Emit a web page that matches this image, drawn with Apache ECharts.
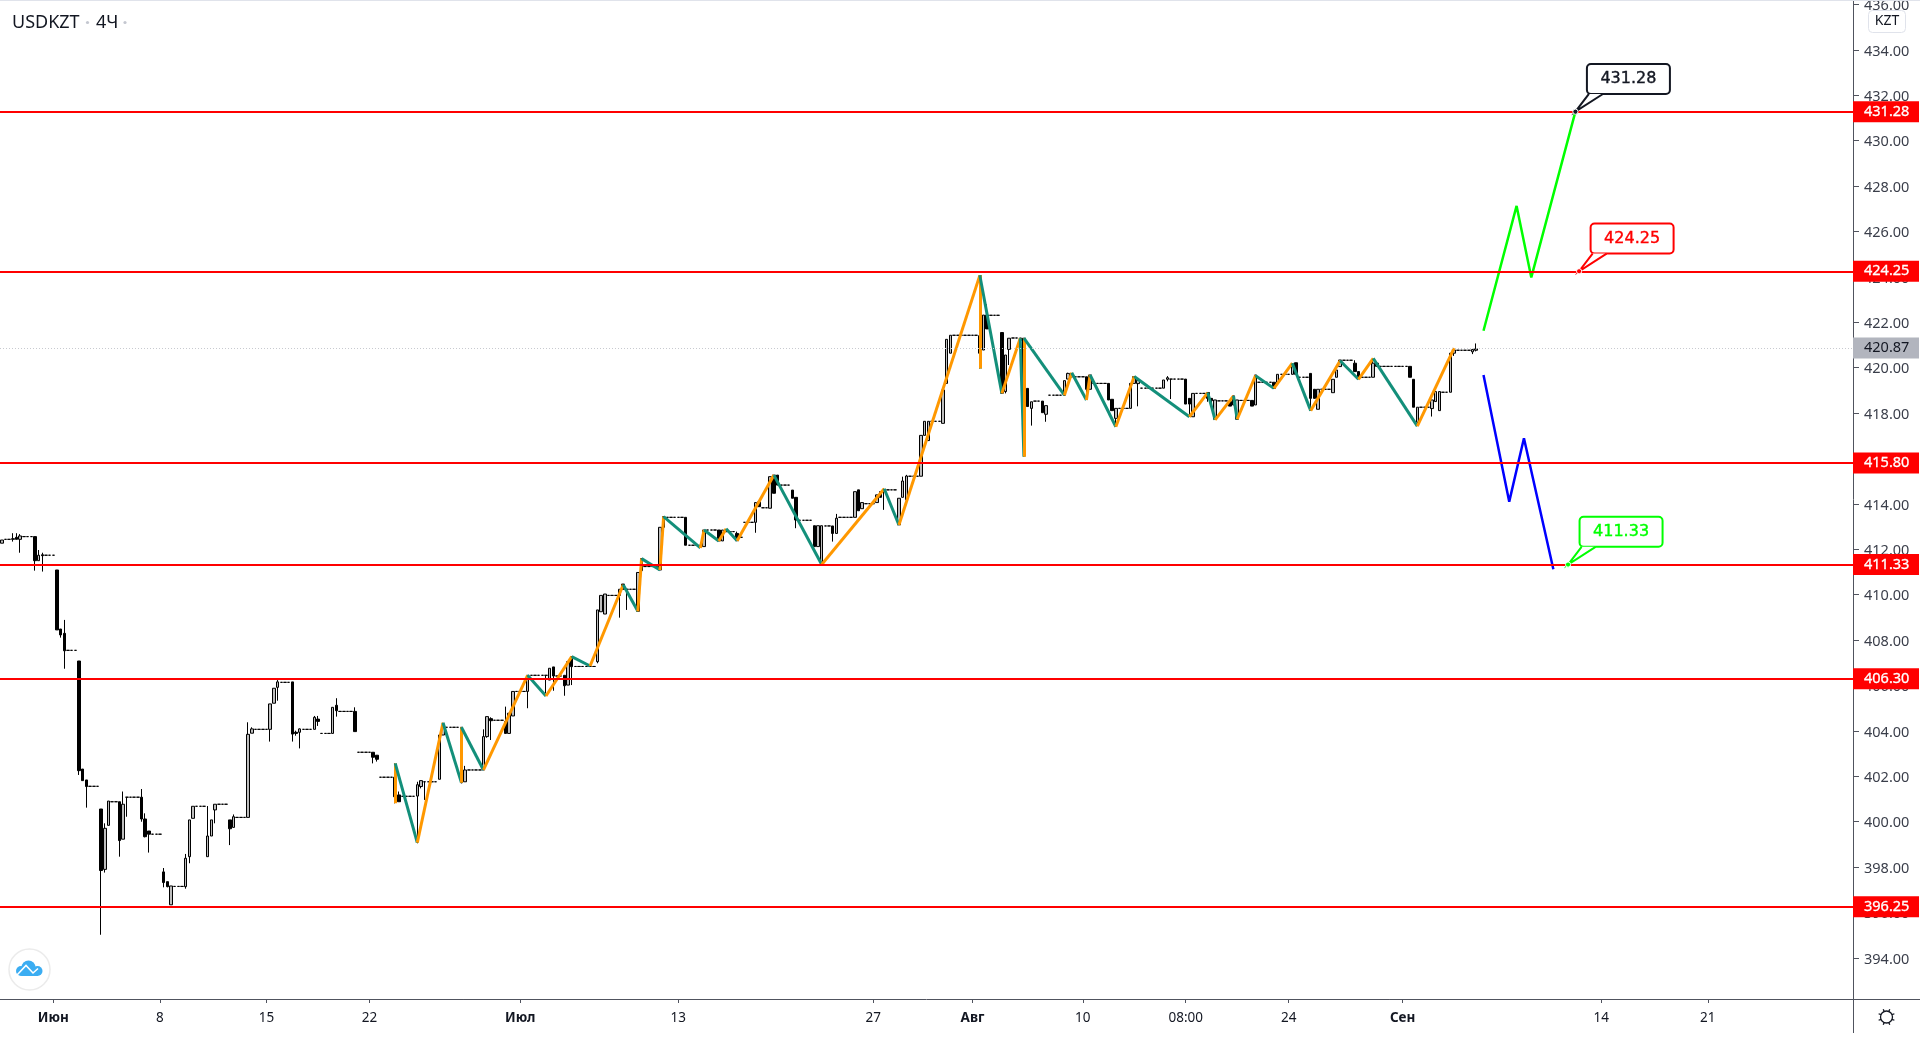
<!DOCTYPE html>
<html>
<head>
<meta charset="utf-8">
<title>USDKZT 4Ч</title>
<style>
  html, body { margin: 0; padding: 0; background: #fff; overflow: hidden; }
  #main { width: 1920px; height: 1040px; }
</style>
<script src="https://cdn.jsdelivr.net/npm/echarts@6/dist/echarts.min.js"></script>
</head>
<body>
<div id="main"></div>
<script>
// candles: a plain number is a flat bar, otherwise [open, close, low, high]
const junBars = [
  [412.27,412.41,412.27,412.41],412.44,412.44,[412.44,412.47,412.34,412.71],[412.53,412.44,412.44,412.71],[412.44,412.59,411.85,412.67],412.56,412.56,412.56,
  [412.56,411.5,411.06,412.56],[411.5,411.74,411.5,411.97],[411.76,411.72,411.02,411.85],411.74,411.74,411.74,
  [411.09,408.45,408.45,411.09],[408.49,408.23,408.11,408.49],[408.3,407.53,406.74,408.89],407.55,407.55,407.55,
  [407.08,402.25,402.06,407.08],[402.32,401.81,401.81,402.32],[401.84,401.55,400.62,401.84],401.56,401.56,401.56,
  [400.56,397.85,395.02,400.56],[397.9,399.71,397.76,399.93],[399.84,400.91,399.84,400.91],400.88,400.88,
  [400.88,399.17,398.46,400.88],[399.23,400.77,399.23,401.33],[401.08,401.08,400.22,401.08],401.08,401.08,401.08,
  [401.08,400.12,400,401.44],[400.12,399.34,399.31,400.37],[399.59,399.45,398.64,399.59],399.45,399.45,399.45,
  [397.79,397.32,397.11,397.96],[397.36,397.14,397.11,397.36],[396.34,397.17,396.34,397.17],397.15,397.15,397.15,
  [397.14,398.39,397.05,398.58],[398.46,400.08,398.17,400.08],[400.15,400.68,400.15,400.68],400.68,400.68,400.68,
  [398.46,399.37,398.46,400.69],[399.37,400.08,399.37,400.08],[400.52,400.77,399.93,400.77],400.77,400.77,400.77,
  [400.08,399.69,398.97,400.08],[399.75,400.22,399.75,400.32],400.19,400.19,400.19,
  [400.19,403.85,400.19,404.38],[403.9,404.09,403.9,404.16],404.07,404.07,404.07,404.07,
  [404.07,405.19,403.53,405.19],[405.22,405.88,405.22,405.88],[405.92,406.16,405.33,406.24],406.14,406.14,406.14,
  [406.16,403.86,403.53,406.16],[403.94,403.89,403.79,404.01],[403.94,404.09,403.23,404.11],404.07,404.07,404.07,
  [404.07,404.6,404.07,404.66],[404.52,404.42,404.22,404.66],403.89,403.89,403.89,
  [403.89,405.04,403.89,405.04],[405.13,404.89,404.63,405.44],404.86,404.86,404.86,404.86,
  [404.86,403.97,403.97,405.04],403.06,403.06,403.06,403.06,
  [403.06,402.84,402.57,403.06],[402.93,402.75,402.65,402.93],401.96,401.96,401.96,401.96,
  [401.96,401.1,400.81,402.57],[401.18,400.88,400.88,401.33],401.12,401.12,401.12,401.12,
  [401.13,401.63,399.05,401.76],[401.55,401.81,401.47,401.81],[401.76,401.76,400.96,401.76],401.76,401.76,401.76,
  [401.87,403.82,401.87,403.82],[403.82,404.16,403.82,404.36],404.16,404.16,404.16,404.16,
  [404.16,401.72,401.69,404.16],[401.76,402.28,401.76,402.46],402.28,402.28,402.28,402.28,
  [402.28,403.75,402.28,404.07],[403.75,404.63,403.7,404.63],[404.54,404.45,403.6,404.6],404.47,404.47,404.47,
  [404.41,403.89,403.89,405.07],[403.89,404.78,403.89,404.78],[404.66,405.74,404.66,405.74],405.74,405.74,405.74
];
const julBars = [
  [405.74,406.45,405,406.45],406.45,406.45,406.45,406.45,
  [406.45,406.45,405.66,406.45],[406.24,406.76,406.24,406.76],[406.82,406.42,405.77,406.82],406.42,406.42,
  [406.45,405.99,405.55,406.45],[406.02,407.05,406.02,407.05],[407.27,406.83,406.02,407.27],406.84,406.84,406.84,406.84,406.84,406.84,
  [407.05,409.33,406.98,409.33],[409.25,409.97,409.25,409.97],[409.15,410.03,409.15,410.03],409.97,409.97,409.97,
  [409.97,410.24,408.99,410.24],[410.47,410.24,410.24,410.47],[410.24,410.24,409.33,410.24],410.24,410.24,
  [409.27,410.98,409.27,410.98],[411.06,411.59,411.06,411.59],411.24,411.24,411.24,411.24,
  [411.09,412.97,411.09,412.97],[412.97,413.44,412.97,413.44],413.41,413.41,413.41,413.41,413.41,
  [413.41,412.18,412.18,413.41],412.18,412.18,412.18,412.18,
  [412.12,412.85,412.12,412.85],412.85,412.85,412.85,
  [412.85,412.37,412.37,412.85],[412.37,412.85,412.37,412.85],412.78,412.78,412.78,
  [412.7,412.38,412.38,412.78],412.53,413.19,413.19,413.19,
  [413.19,414.06,412.73,414.06],[414.09,413.88,413.88,414.09],413.83,413.83,
  [413.81,415.2,413.81,415.2],[415.27,414.47,414.47,415.27],[415.27,414.83,414.83,415.27],414.83,414.83,414.83,
  [414.61,414.25,414.25,414.61],[414.29,413.29,412.93,414.29],413.28,413.28,413.28,413.28,
  [413.04,412.12,412.12,413.04],[412.12,413.04,412.12,413.04],[411.3,413.04,411.3,413.04],413.03,413.03,
  [413.03,412.7,412.34,413.03],[412.7,413.37,412.7,413.56],413.41,413.41,413.41,413.41,
  [413.41,414.54,413.41,414.54],[414.62,413.7,413.7,414.62],[413.79,414.06,413.79,414.06],414.01,414.01,414.01,
  [414.06,414.4,414.06,414.4],[414.54,414.29,414.29,414.54],[414.6,414.62,413.74,414.69],414.62,414.62,414.62,
  [413.08,414.25,413.07,414.25],[414.29,415.01,414.29,415.2],[414.18,415.23,414.18,415.28],415.22,415.22,415.22,
  [415.22,417.02,415.22,417.02],[417.02,417.64,417.02,417.64],[416.79,417.64,416.79,417.64],417.64,417.64,417.64,
  [417.55,419.02,417.55,419.02],[419.31,421.25,419.31,421.25],[420.64,421.43,420.64,421.43],421.43,421.43,421.43,421.43,421.43,421.43,421.43
];
const augBars = [
  [421.41,420.64,419.97,424.07],[420.78,422.32,420.78,422.32],[422.32,421.71,421.71,422.79],422.31,422.31,422.31,
  [421.55,418.88,418.87,421.55],[418.95,420.56,418.87,420.56],[420.81,421.3,420.12,421.3],421.31,421.31,
  [421.31,421.2,421.1,421.31],[421.3,419.1,416.07,421.3],[419.09,418.29,418.29,419.09],[418.21,418.5,417.45,418.5],418.53,418.53,
  [418.53,418.02,418.02,418.53],[417.95,418.33,417.62,418.33],418.79,418.79,418.79,418.79,
  [418.79,419.43,418.79,419.43],[419.5,419.75,419.5,419.78],419.6,419.6,419.6,419.6,
  [419.6,419.05,418.58,419.6],[419.05,419.68,419.05,419.68],419.31,419.31,419.31,419.31,
  [419.31,418.58,418.58,419.31],[418.61,418.11,418.11,418.61],[417.77,418.21,417.4,418.21],418.21,418.21,418.21,
  [418.21,419.31,418.21,419.31],[419.31,419.61,419.31,419.61],[419.3,419.45,418.3,419.5],419.1,419.1,419.1,419.1,419.1,419.1,
  [419.1,419.46,419.1,419.46],[419.49,419.56,419.4,419.63],[419.5,419.5,418.62,419.5],419.5,419.5,419.5,
  [419.5,418.4,418.4,419.5],[418.65,418.4,417.84,418.65],[417.84,418.87,417.84,418.87],418.87,418.87,418.87,
  [418.91,418.65,418.5,418.91],[418.65,418.55,418.4,418.65],[417.73,418.58,417.7,418.58],418.54,418.54,418.54,
  [418.51,418.31,418.31,418.51],[418.36,418.76,418.36,418.76],[417.73,418.58,417.73,418.58],418.56,418.56,418.56,
  [418.56,418.31,418.31,418.56],[418.36,419.68,418.36,419.68],419.36,419.36,419.36,419.36,
  [419.36,419.09,419.09,419.36],[419.36,419.71,419.36,419.71],419.71,419.71,419.71,
  [419.71,420.05,419.71,420.2],[420.22,419.71,419.71,420.22],419.58,419.58,419.58,
  [419.75,418.65,418.11,419.75],[419.05,418.65,418.65,419.05],[418.17,419.05,418.17,419.05],419.05,419.05,419.05,
  [418.9,419.49,418.9,419.49],[419.58,419.9,419.58,419.9],[420.05,420.34,420.05,420.34],420.33,420.33,420.33,
  [420.2,419.83,419.83,420.33],[419.83,419.53,419.49,419.83],419.58,419.58,419.58,
  [419.58,420.2,419.58,420.41],[420.06,420.2,420.06,420.2],420.06,420.06,420.06,420.06,420.06,420.06,420.06,420.06,
  [420.06,419.58,419.58,420.06],[419.49,418.26,418.26,419.49],[417.6,418.26,417.43,418.26],418.26,418.26,418.26,
  [418.2,418.58,417.85,418.58],[418.51,418.95,418.51,418.95],[418.11,418.95,418.11,418.95],418.92,418.92,
  [418.92,420.64,418.92,420.64],[420.64,420.78,420.52,420.86],420.77,420.77,420.77,420.77,
  [420.7,420.8,420.6,420.83],[420.77,420.83,420.72,421.07]
];

// zigzag turning points
const zigzagBars = [107,107,113,120,125,125,131,143,148,155,160,169,173,174,179,180,190,191,195,197,200,210,223,240,244,266,266,266,272,277,278,278,289,291,295,296,303,308,323,328,330,335,336,341,346,351,356,364,369,373,385,395];
const zigzagPrices = [400.81,402.57,399.08,404.36,401.72,404.16,402.28,406.45,405.54,407.27,406.86,410.44,409.27,411.59,411.09,413.44,412.06,412.85,412.37,412.91,412.38,415.27,411.33,414.67,413.07,424.07,419.97,424.07,418.87,421.3,416.08,421.3,418.79,419.78,418.58,419.68,417.4,419.61,417.84,418.9,417.7,418.76,417.73,419.65,419.09,420.2,418.11,420.31,419.49,420.41,417.43,420.86];

// forecast paths
const upPathBars = [403,412,416,428];
const upPathPrices = [421.63,427.13,423.98,431.28];
const downPathBars = [403,410,414,422];
const downPathPrices = [419.68,414.1,416.89,411.12];

const levelPrices = [431.28,424.25,415.8,411.33,406.3,396.25];
const lastPrice = 420.87;

const calloutBars = [428,429,426];
const calloutPrices = [431.28,424.25,411.33];
const calloutColors = ['#131722','#ff0000','#00ff00'];

const priceTicks = [394,396,398,400,402,404,406,408,410,412,414,416,418,420,422,424,426,428,430,432,434,436];
const timeTickBars = [14,43,72,100,141,184,237,264,294,322,350,381,435,464];
const timeTickLabels = ['Июн','8','15','22','Июл','13','27','Авг','10','08:00','24','Сен','14','21'];
const monthLabels = ['Июн','Июл','Авг','Сен'];
const barSlots = 504;

const candles = junBars.concat(julBars, augBars).map(r => typeof r === 'number' ? [r, r, r, r] : r);
const categories = [];
for (let i = 0; i < barSlots; i++) {
  const t = timeTickBars.indexOf(i);
  categories.push(t >= 0 ? timeTickLabels[t] : '');
}

// each leg takes its colour from its direction
const zigzagLegs = [];
for (let i = 1; i < zigzagBars.length; i++) {
  zigzagLegs.push({
    coords: [[zigzagBars[i - 1], zigzagPrices[i - 1]], [zigzagBars[i], zigzagPrices[i]]],
    lineStyle: { color: zigzagPrices[i] > zigzagPrices[i - 1] ? '#ff9800' : '#138f7a' }
  });
}

const axisColor = '#50535e';
const textFont = '"Noto Sans"';

const chart = echarts.init(document.getElementById('main'), null, { renderer: 'canvas' });

chart.setOption({
  animation: false,
  backgroundColor: '#fff',
  // outerBoundsMode none: the 436.00 label may run off the top, as it does in the source
  grid: { left: 0, right: 67, top: 0, bottom: 41, outerBoundsMode: 'none' },
  xAxis: {
    type: 'category',
    data: categories,
    boundaryGap: true,
    axisLine: { onZero: false, lineStyle: { color: axisColor, width: 1 } },
    axisTick: {
      show: true,
      length: 4,
      alignWithLabel: true,
      interval: i => timeTickBars.includes(i),
      lineStyle: { color: axisColor }
    },
    axisLabel: {
      interval: i => timeTickBars.includes(i),
      margin: 12,
      hideOverlap: false,
      fontFamily: textFont,
      fontSize: 13.5,
      color: '#131722',
      formatter: v => monthLabels.includes(v) ? '{m|' + v + '}' : v,
      rich: { m: { fontFamily: textFont, fontSize: 13.5, fontWeight: 'bold', color: '#131722' } }
    },
    splitLine: { show: false }
  },
  yAxis: {
    type: 'value',
    position: 'right',
    min: 392.19,
    max: 436.2,
    axisLine: { show: true, onZero: false, lineStyle: { color: axisColor, width: 1 } },
    axisTick: { show: true, length: 6, customValues: priceTicks, lineStyle: { color: axisColor } },
    axisLabel: {
      margin: 11,
      customValues: priceTicks,
      formatter: v => '{p|' + v.toFixed(2) + '}',
      // the source sets its scale text a touch below the tick
      rich: { p: { fontFamily: textFont, fontSize: 14.5, color: '#3a3e4a', padding: [3, 0, 0, 0] } }
    },
    splitLine: { show: false }
  },
  series: [
    {
      type: 'candlestick',
      z: 2,
      barWidth: 3,
      data: candles,
      itemStyle: { color: '#bdbdbd', color0: '#000', borderColor: '#000', borderColor0: '#000', borderWidth: 1 }
    },
    {
      type: 'lines',
      coordinateSystem: 'cartesian2d',
      z: 3,
      lineStyle: { width: 3, opacity: 1, curveness: 0 },
      data: zigzagLegs
    },
    {
      type: 'line',
      z: 4,
      showSymbol: false,
      lineStyle: { color: '#00ff00', width: 2.5 },
      data: upPathBars.map((b, i) => [b, upPathPrices[i]])
    },
    {
      type: 'line',
      z: 4,
      showSymbol: false,
      lineStyle: { color: '#0000ff', width: 2.5 },
      data: downPathBars.map((b, i) => [b, downPathPrices[i]])
    },
    {
      // support / resistance levels and the last price, tagged on the price scale
      type: 'line',
      z: 5,
      data: [],
      markLine: {
        silent: true,
        symbol: 'none',
        precision: 2,
        animation: false,
        lineStyle: { color: '#ff0000', width: 2, type: 'solid' },
        label: {
          show: true,
          position: 'end',
          distance: 0,
          align: 'left',
          width: 55,
          height: 21,
          lineHeight: 21,
          padding: [0, 0, 0, 11],
          backgroundColor: '#ff0000',
          color: '#fff',
          textBorderColor: '#fff',
          textBorderWidth: 0.3,
          fontFamily: textFont,
          fontSize: 14.5,
          formatter: p => p.value.toFixed(2)
        },
        data: [
          {
            yAxis: lastPrice,
            lineStyle: { color: '#c8cad0', width: 1, type: [1, 2] },
            label: { backgroundColor: '#b2b5be', color: '#131722', textBorderWidth: 0 }
          }
        ].concat(levelPrices.map(p => ({ yAxis: p })))
      }
    }
  ]
});

// callouts sit on their price through the axes, only the box offset is fixed
function calloutGraphics() {
  const items = [];
  calloutBars.forEach((bar, i) => {
    const pt = chart.convertToPixel({ xAxisIndex: 0, yAxisIndex: 0 }, [bar, calloutPrices[i]]);
    const c = calloutColors[i];
    const left = pt[0] + 11.5;
    const top = pt[1] - 47.7;
    items.push({
      type: 'rect', z: 20,
      shape: { x: left, y: top, width: 83, height: 30, r: 4 },
      style: { fill: '#fff', stroke: c, lineWidth: 2 }
    });
    items.push({
      type: 'polyline', z: 21,
      shape: { points: [[left + 2, top + 30], pt, [left + 16, top + 30]] },
      style: { fill: '#fff', stroke: c, lineWidth: 2 }
    });
    items.push({
      type: 'circle', z: 22,
      shape: { cx: pt[0], cy: pt[1], r: 2.6 },
      style: { fill: c, stroke: '#fff', lineWidth: 1 }
    });
    items.push({
      type: 'text', z: 23,
      style: {
        x: left + 41.5, y: top + 15,
        text: calloutPrices[i].toFixed(2),
        fill: c,
        stroke: c,
        lineWidth: 0.4,
        font: '16px "DejaVu Sans"',
        align: 'center', verticalAlign: 'middle'
      }
    });
  });
  return items;
}

// settings glyph in the corner of the two scales
function gearGraphics(cx, cy) {
  const items = [{
    type: 'circle', z: 20,
    shape: { cx: cx, cy: cy, r: 6 },
    style: { fill: 'none', stroke: '#131722', lineWidth: 1.3 }
  }];
  for (let k = 0; k < 8; k++) {
    const a = Math.PI * (k / 4 + 0.125);
    items.push({
      type: 'line', z: 20,
      shape: { x1: cx + 6 * Math.cos(a), y1: cy + 6 * Math.sin(a), x2: cx + 8.5 * Math.cos(a), y2: cy + 8.5 * Math.sin(a) },
      style: { stroke: '#131722', lineWidth: 1.3 }
    });
  }
  return items;
}

const headerGraphics = [
  { type: 'rect', z: 19, shape: { x: 0, y: 0, width: 1920, height: 1 }, style: { fill: '#e0e3eb' } },
  { type: 'text', z: 20, style: { x: 12, y: 23, text: 'USDKZT', fill: '#131722', font: '18px ' + textFont, verticalAlign: 'middle' } },
  { type: 'circle', z: 20, shape: { cx: 87.5, cy: 22.5, r: 1.6 }, style: { fill: '#c4c7d0' } },
  { type: 'text', z: 20, style: { x: 96, y: 23, text: '4Ч', fill: '#131722', font: '18px ' + textFont, verticalAlign: 'middle' } },
  { type: 'circle', z: 20, shape: { cx: 125, cy: 22.5, r: 1.6 }, style: { fill: '#c4c7d0' } },
  // currency badge
  { type: 'rect', z: 20, shape: { x: 1868.5, y: 10.5, width: 37, height: 22, r: 4 }, style: { fill: '#fff', stroke: '#e0e3eb', lineWidth: 1 } },
  { type: 'text', z: 21, style: { x: 1887, y: 21.5, text: 'KZT', fill: '#131722', font: '14px ' + textFont, align: 'center', verticalAlign: 'middle' } },
  // scale lines running on past the plot
  { type: 'line', z: 19, shape: { x1: 1853, y1: 999.5, x2: 1920, y2: 999.5 }, style: { stroke: axisColor, lineWidth: 1 } },
  { type: 'line', z: 19, shape: { x1: 1853.5, y1: 999, x2: 1853.5, y2: 1033 }, style: { stroke: axisColor, lineWidth: 1 } },
  // logo badge
  { type: 'circle', z: 20, shape: { cx: 29.5, cy: 969.5, r: 20.5 }, style: { fill: '#fff', stroke: '#ebebeb', lineWidth: 1.5 } },
  { type: 'circle', z: 21, shape: { cx: 21, cy: 971, r: 5 }, style: { fill: '#3badf2' } },
  { type: 'circle', z: 21, shape: { cx: 28.5, cy: 967.5, r: 7 }, style: { fill: '#3badf2' } },
  { type: 'circle', z: 21, shape: { cx: 37.5, cy: 971, r: 5 }, style: { fill: '#3badf2' } },
  { type: 'rect', z: 21, shape: { x: 21, y: 970, width: 17, height: 6, r: 1 }, style: { fill: '#3badf2' } },
  { type: 'polyline', z: 22, shape: { points: [[17, 975], [26, 965.5], [33, 973], [38, 968.5]] }, style: { stroke: '#fff', lineWidth: 1.6, fill: 'none' } }
];

chart.setOption({
  graphic: { elements: headerGraphics.concat(calloutGraphics(), gearGraphics(1886.5, 1017)) }
});
</script>
</body>
</html>
